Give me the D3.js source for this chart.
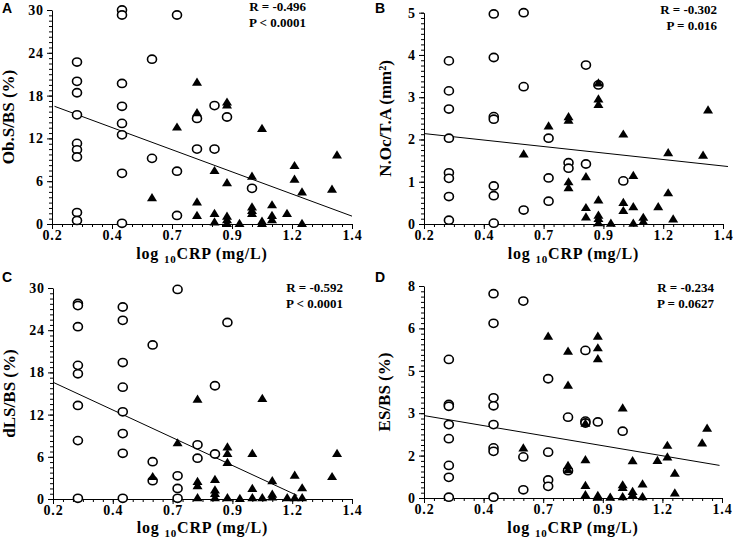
<!DOCTYPE html>
<html>
<head>
<meta charset="utf-8">
<script src="https://cdn.jsdelivr.net/npm/d3@7"></script>
<style>
	body { margin: 0; background: #fff; }
	svg text { font-family: "Liberation Serif", "Times New Roman", serif; font-weight: bold; fill: #000; }
	svg .letter { font-family: "Liberation Sans", Arial, sans-serif; }
</style>
</head>
<body>
<svg id="chart" width="733" height="538"></svg>
<script>
// shared x axis (log10 CRP)
const xTicks = [0.2, 0.44, 0.68, 0.92, 1.16, 1.4];
const xTickLabels = ['0.2', '0.4', '0.7', '0.9', '1.2', '1.4'];

// A - Ob.S/BS
const obsTicks = [0, 6, 12, 18, 24, 30];
const obsTickLabels = ['0', '6', '12', '18', '24', '30'];
const obsCircles = [[0.30,22.7],[0.30,20.0],[0.30,18.4],[0.30,15.3],[0.30,11.3],[0.30,10.4],[0.30,9.4],[0.30,1.6],[0.30,0.5],
	[0.48,30.0],[0.48,29.3],[0.48,19.7],[0.48,16.5],[0.48,14.1],[0.48,12.5],[0.48,7.1],[0.48,0.1],
	[0.60,23.1],[0.60,9.2],[0.70,29.3],[0.70,7.4],[0.70,1.2],[0.78,14.8],[0.78,10.5],
	[0.85,16.6],[0.85,10.5],[0.90,15.0],[1.00,5.0]];
const obsTriangles = [[0.60,3.7],[0.70,13.6],[0.78,19.9],[0.78,15.6],[0.78,3.1],[0.78,1.2],
	[0.85,7.5],[0.85,1.5],[0.85,0.3],[0.90,17.1],[0.90,16.7],[0.90,5.8],[0.90,1.1],[0.90,0.6],[0.90,0.1],
	[0.95,0.1],[1.00,6.7],[1.00,2.4],[1.00,1.9],[1.00,1.5],[1.04,13.4],[1.04,0.4],[1.04,0.1],
	[1.08,2.7],[1.08,1.2],[1.08,0.6],[1.14,1.5],[1.17,8.2],[1.17,6.3],[1.20,4.5],[1.20,0.1],
	[1.32,4.9],[1.34,9.7]];
const obsFit = [[0.21,16.5],[1.4,1.1]];
const obsStats = ['R = -0.496', 'P < 0.0001'];

// B - N.Oc/T.A
const nocTicks = [0, 1, 2, 3, 4, 5];
const nocTickLabels = ['0', '1', '2', '3', '4', '5'];
const nocCircles = [[0.30,3.86],[0.30,3.15],[0.30,2.72],[0.30,2.03],[0.30,1.21],[0.30,1.08],[0.30,0.65],[0.30,0.09],
	[0.48,4.97],[0.48,3.94],[0.48,2.54],[0.48,2.48],[0.48,0.90],[0.48,0.67],[0.48,0.02],
	[0.60,5.0],[0.60,3.25],[0.60,0.33],[0.70,2.03],[0.70,1.09],[0.70,0.54],[0.78,1.45],[0.78,1.32],
	[0.85,3.76],[0.85,1.42],[0.90,3.29],[1.00,1.02]];
const nocTriangles = [[0.60,1.66],[0.70,2.32],[0.78,2.54],[0.78,2.46],[0.78,1.00],[0.78,0.86],
	[0.85,1.12],[0.85,0.39],[0.85,0.17],[0.90,3.34],[0.90,2.96],[0.90,2.83],[0.90,0.57],[0.90,0.21],[0.90,0.13],[0.90,0.03],
	[0.95,0.02],[1.00,2.13],[1.00,0.51],[1.00,0.32],[1.04,1.15],[1.04,0.41],[1.04,0.02],
	[1.08,0.16],[1.08,0.06],[1.14,0.41],[1.18,1.69],[1.18,0.74],[1.20,0.12],[1.32,1.63],[1.34,2.70]];
const nocFit = [[0.2,2.14],[1.42,1.36]];
const nocStats = ['R = -0.302', 'P = 0.016'];

// C - dLS/BS
const dlsTicks = [0, 6, 12, 18, 24, 30];
const dlsTickLabels = ['0', '6', '12', '18', '24', '30'];
const dlsCircles = [[0.30,27.8],[0.30,27.5],[0.30,24.5],[0.30,19.0],[0.30,17.8],[0.30,13.3],[0.30,8.3],[0.30,0.1],
	[0.48,27.3],[0.48,25.4],[0.48,19.4],[0.48,15.9],[0.48,12.4],[0.48,9.3],[0.48,6.5],[0.48,0.1],
	[0.60,21.9],[0.60,5.3],[0.60,2.6],[0.70,29.8],[0.70,3.3],[0.70,1.5],[0.70,0.1],
	[0.78,7.7],[0.78,5.8],[0.85,16.1],[0.85,6.4],[0.90,25.1]];
const dlsTriangles = [[0.60,3.2],[0.70,8.0],[0.78,14.2],[0.78,2.5],[0.78,1.9],[0.78,0.2],
	[0.85,2.8],[0.85,1.3],[0.85,0.8],[0.85,0.2],[0.90,7.4],[0.90,6.5],[0.90,5.2],[0.90,0.2],
	[0.95,0.1],[1.00,6.5],[1.00,1.5],[1.00,0.2],[1.04,14.3],[1.04,0.2],
	[1.08,2.6],[1.08,0.7],[1.08,0.3],[1.14,0.2],[1.17,3.4],[1.17,0.2],[1.20,1.6],[1.20,0.2],
	[1.32,3.2],[1.34,6.5]];
const dlsFit = [[0.2,16.6],[1.18,0.5]];
const dlsStats = ['R = -0.592', 'P < 0.0001'];

// D - ES/BS
const esTicks = [0, 1.6, 3.2, 4.8, 6.4, 8];
const esTickLabels = ['0', '2', '3', '5', '6', '8'];
const esCircles = [[0.30,5.23],[0.30,3.53],[0.30,3.46],[0.30,2.77],[0.30,2.24],[0.30,1.23],[0.30,0.78],[0.30,0.03],
	[0.48,7.71],[0.48,6.59],[0.48,3.78],[0.48,3.48],[0.48,2.77],[0.48,1.89],[0.48,1.76],[0.48,0.03],
	[0.60,7.43],[0.60,1.55],[0.60,0.31],[0.70,4.50],[0.70,1.73],[0.70,0.68],[0.70,0.44],
	[0.78,3.05],[0.78,1.03],[0.85,5.57],[0.85,2.90],[0.85,2.83],[0.90,2.87],[1.00,2.52]];
const esTriangles = [[0.60,1.89],[0.70,6.11],[0.78,5.54],[0.78,4.26],[0.78,1.23],[0.78,1.07],
	[0.85,2.82],[0.85,1.45],[0.85,0.48],[0.85,0.13],[0.90,6.11],[0.90,5.67],[0.90,5.26],[0.90,0.10],[0.90,0.03],
	[0.95,0.03],[1.00,3.40],[1.00,0.50],[1.00,0.40],[1.00,0.05],[1.04,1.41],[1.04,0.25],[1.04,0.13],
	[1.08,0.53],[1.08,0.05],[1.14,1.42],[1.18,1.99],[1.18,1.55],[1.21,0.94],[1.21,0.19],
	[1.32,2.08],[1.34,2.64]];
const esFit = [[0.2,3.11],[1.39,1.23]];
const esStats = ['R = -0.234', 'P = 0.0627'];

const svg = d3.select('#chart');
const triangle = 'M0,-4.6L5,3.6L-5,3.6Z';

function drawPanel(cfg) {
	const g = svg.append('g');
	const x = d3.scaleLinear().domain([0.2, 1.4]).range([cfg.left, cfg.right]);
	const y = d3.scaleLinear().domain([0, cfg.yTicks[cfg.yTicks.length - 1]]).range([cfg.bottom, cfg.top]);

	// minor ticks
	const xMinor = d3.range(0, 31).map(i => 0.2 + i * 0.04);
	const yStep = cfg.yTicks[1] / 8;
	const yMinor = d3.range(0, 41).map(i => i * yStep);

	g.append('g')
		.attr('transform', `translate(0, ${cfg.bottom})`)
		.call(d3.axisBottom(x).tickValues(xMinor).tickSize(3).tickFormat('').tickSizeOuter(0))
		.call(a => a.select('.domain').remove());
	g.append('g')
		.attr('transform', `translate(${cfg.left}, 0)`)
		.call(d3.axisLeft(y).tickValues(yMinor).tickSize(3).tickFormat('').tickSizeOuter(0))
		.call(a => a.select('.domain').remove());

	const xAxis = g.append('g')
		.attr('transform', `translate(0, ${cfg.bottom})`)
		.call(d3.axisBottom(x).tickValues(xTicks).tickSize(5).tickPadding(1).tickSizeOuter(0)
			.tickFormat((d, i) => xTickLabels[i]));
	const yAxis = g.append('g')
		.attr('transform', `translate(${cfg.left}, 0)`)
		.call(d3.axisLeft(y).tickValues(cfg.yTicks).tickSize(5).tickPadding(3).tickSizeOuter(0)
			.tickFormat((d, i) => cfg.yLabels[i]));

	[xAxis, yAxis].forEach(a => {
		a.selectAll('text').style('font-size', '14px').style('letter-spacing', '0.9px');
		a.attr('font-family', null).attr('font-size', null);
	});
	g.selectAll('.domain, .tick line').attr('stroke', '#000');

	// titles
	const xt = g.append('text')
		.attr('x', (cfg.left + cfg.right) / 2)
		.attr('y', cfg.bottom + cfg.xTitleGap)
		.attr('text-anchor', 'middle')
		.style('font-size', '16px')
		.style('letter-spacing', '0.8px');
	xt.append('tspan').text('log ');
	xt.append('tspan').attr('dy', 4).style('font-size', '11px').text('10');
	xt.append('tspan').attr('dy', -4).text('CRP (mg/L)');

	g.append('text')
		.attr('transform', `translate(${cfg.left - cfg.titleGap}, ${(cfg.top + cfg.bottom) / 2}) rotate(-90)`)
		.attr('text-anchor', 'middle')
		.style('font-size', '17px')
		.text(cfg.title);

	g.append('text')
		.attr('class', 'letter')
		.attr('x', cfg.letterX)
		.attr('y', cfg.letterY)
		.style('font-size', '14px')
		.text(cfg.letter);

	g.selectAll('.stat')
		.data(cfg.stats)
		.enter()
		.append('text')
			.attr('class', 'stat')
			.attr('x', cfg.statX)
			.attr('y', (d, i) => cfg.statY + i * 16)
			.attr('text-anchor', 'end')
			.style('font-size', '13px')
			.text(d => d);

	// fit line
	g.append('path')
		.datum(cfg.fit)
		.attr('d', d3.line().x(d => x(d[0])).y(d => y(d[1])))
		.attr('fill', 'none')
		.attr('stroke', '#000')
		.attr('stroke-width', 1);

	g.append('g')
		.selectAll('ellipse')
		.data(cfg.circles)
		.enter()
		.append('ellipse')
			.attr('cx', d => x(d[0]))
			.attr('cy', d => y(d[1]))
			.attr('rx', 4.5)
			.attr('ry', 4.1)
			.attr('fill', '#fff')
			.attr('stroke', '#000')
			.attr('stroke-width', 1.6);

	g.append('g')
		.selectAll('path')
		.data(cfg.triangles)
		.enter()
		.append('path')
			.attr('d', triangle)
			.attr('transform', d => `translate(${x(d[0])}, ${y(d[1])})`)
			.attr('fill', '#000');
}

drawPanel({ left: 52, right: 352, top: 10, bottom: 224, yTicks: obsTicks, yLabels: obsTickLabels,
	title: 'Ob.S/BS (%)', titleGap: 38, xTitleGap: 35, circles: obsCircles, triangles: obsTriangles, fit: obsFit,
	stats: obsStats, statX: 306, statY: 11, letter: 'A', letterX: 2, letterY: 13 });
drawPanel({ left: 424, right: 723, top: 12.7, bottom: 224, yTicks: nocTicks, yLabels: nocTickLabels,
	title: 'N.Oc/T.A (mm²)', titleGap: 33, xTitleGap: 35, circles: nocCircles, triangles: nocTriangles, fit: nocFit,
	stats: nocStats, statX: 717, statY: 14, letter: 'B', letterX: 375, letterY: 13 });
drawPanel({ left: 53, right: 352, top: 288, bottom: 499, yTicks: dlsTicks, yLabels: dlsTickLabels,
	title: 'dLS/BS (%)', titleGap: 38, xTitleGap: 34, circles: dlsCircles, triangles: dlsTriangles, fit: dlsFit,
	stats: dlsStats, statX: 343, statY: 292, letter: 'C', letterX: 2, letterY: 282 });
drawPanel({ left: 424, right: 722, top: 286, bottom: 498, yTicks: esTicks, yLabels: esTickLabels,
	title: 'ES/BS (%)', titleGap: 34, xTitleGap: 35, circles: esCircles, triangles: esTriangles, fit: esFit,
	stats: esStats, statX: 714, statY: 292, letter: 'D', letterX: 375, letterY: 282 });
</script>
</body>
</html>
